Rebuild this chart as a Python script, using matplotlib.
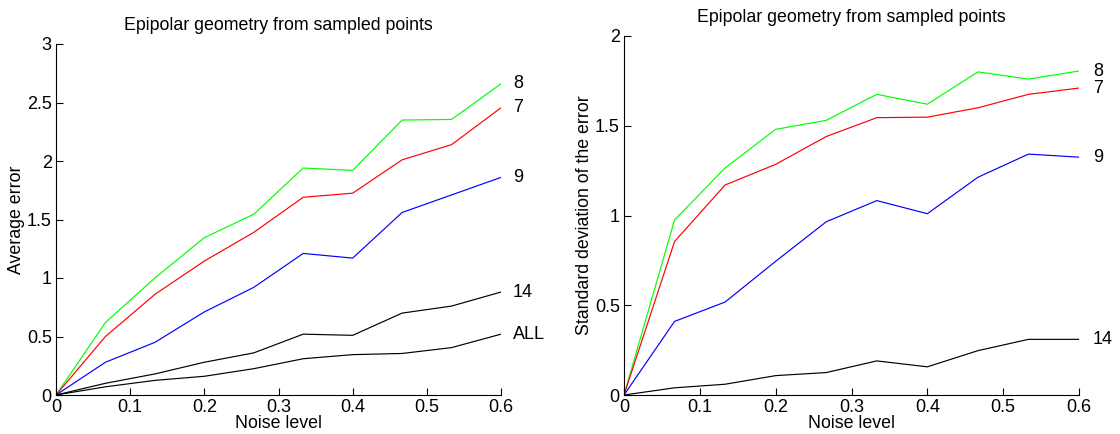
import numpy as np
import matplotlib
matplotlib.use('Agg')
import matplotlib.pyplot as plt

plt.rcParams['font.family'] = ['Liberation Sans', 'DejaVu Sans']

# noise levels (shared x values)
noise = [0, 1/15, 2/15, 3/15, 4/15, 5/15, 6/15, 7/15, 8/15, 9/15]

# average error, one series per number of sampled points
avg_8 = [0, 0.62, 1.00, 1.345, 1.545, 1.94, 1.92, 2.35, 2.355, 2.66]
avg_7 = [0, 0.50, 0.86, 1.145, 1.39, 1.69, 1.725, 2.01, 2.14, 2.455]
avg_9 = [0, 0.28, 0.45, 0.71, 0.92, 1.21, 1.17, 1.56, 1.71, 1.86]
avg_14 = [0, 0.10, 0.18, 0.28, 0.36, 0.52, 0.51, 0.70, 0.76, 0.88]
avg_all = [0, 0.07, 0.125, 0.16, 0.225, 0.31, 0.345, 0.355, 0.405, 0.52]

# standard deviation of the error
std_8 = [0, 0.975, 1.265, 1.48, 1.53, 1.675, 1.62, 1.80, 1.76, 1.805]
std_7 = [0, 0.855, 1.17, 1.285, 1.44, 1.545, 1.548, 1.60, 1.675, 1.71]
std_9 = [0, 0.41, 0.518, 0.745, 0.965, 1.083, 1.01, 1.213, 1.342, 1.325]
std_14 = [0, 0.04, 0.06, 0.108, 0.125, 0.19, 0.157, 0.247, 0.31, 0.31]

left_series = [(avg_8, 'lime', '8'), (avg_7, 'red', '7'), (avg_9, 'blue', '9'),
               (avg_14, 'black', '14'), (avg_all, 'black', 'ALL')]
right_series = [(std_8, 'lime', '8'), (std_7, 'red', '7'), (std_9, 'blue', '9'),
                (std_14, 'black', '14')]

fig = plt.figure(figsize=(11.2, 4.34), dpi=100)
ax1 = fig.add_axes([56/1120, 39/434, 445/1120, 351/434])
ax2 = fig.add_axes([624/1120, 39/434, 455/1120, 359/434])


def style(ax, series, ymax, yticks, ylabel, off):
    for vals, col, lab in series:
        ax.plot(noise, vals, color=col, lw=0.85)
        ax.annotate(lab, xy=(noise[-1], vals[-1]), xytext=(off, 0),
                    textcoords='offset pixels', va='center', ha='left',
                    fontsize=13, annotation_clip=False)
    ax.set_xlim(0, 0.6)
    ax.set_ylim(0, ymax)
    ax.set_xticks([0, 0.1, 0.2, 0.3, 0.4, 0.5, 0.6])
    ax.set_xticklabels(['0', '0.1', '0.2', '0.3', '0.4', '0.5', '0.6'])
    ax.set_yticks(yticks)
    ax.set_yticklabels([('%g' % t) for t in yticks])
    ax.spines['top'].set_visible(False)
    ax.spines['right'].set_visible(False)
    ax.tick_params(direction='in', length=5, labelsize=13, pad=3)
    ax.set_title('Epipolar geometry from sampled points', fontsize=12.8, pad=10)
    ax.set_xlabel('Noise level', fontsize=12.8, labelpad=-1)
    ax.set_ylabel(ylabel, fontsize=12.8, labelpad=1)


style(ax1, left_series, 3, [0, 0.5, 1, 1.5, 2, 2.5, 3], 'Average error', 12)
style(ax2, right_series, 2, [0, 0.5, 1, 1.5, 2], 'Standard deviation of the error', 14)

fig.savefig('out.png', dpi=100)
